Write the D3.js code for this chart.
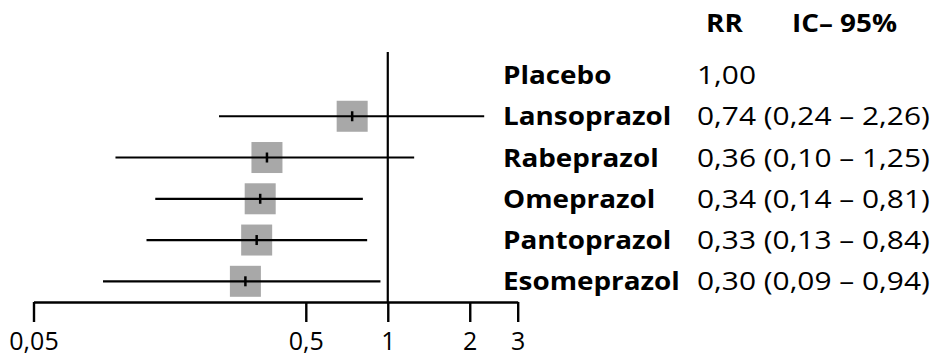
<!DOCTYPE html>
<html><head><meta charset="utf-8">
<script src="https://cdn.jsdelivr.net/npm/d3@7"></script>
<style>html,body{margin:0;padding:0;background:#fff;} svg{display:block}</style>
</head><body><svg id="c" width="936" height="356"></svg>
<script>
// ---- data ----
const drugs = ["Placebo","Lansoprazol","Rabeprazol","Omeprazol","Pantoprazol","Esomeprazol"];
const rr    = [1.00, 0.74, 0.36, 0.34, 0.33, 0.30];
const lower = [null, 0.24, 0.10, 0.14, 0.13, 0.09];
const upper = [null, 2.26, 1.25, 0.81, 0.84, 0.94];
const tickValues = [0.05, 0.5, 1, 2, 3];
const tickLabels = ["0,05", "0,5", "1", "2", "3"];
const headers = ["RR", "IC– 95%"];

// ---- layout ----
const FONT = "'Open Sans', sans-serif";
const svg = d3.select("#c");
const x = d3.scaleLog().domain([0.05, 3]).range([33.5, 517.7]);
const y = d3.scalePoint().domain(drugs).range([75, 281.3]);
const axisY = 302;
const fmt = v => v.toFixed(2).replace(".", ",");
const rows = drugs.map((d, i) => ({name: d, rr: rr[i], lo: lower[i], hi: upper[i]}));

// reference line at 1
svg.append("line")
  .attr("x1", x(1)).attr("x2", x(1)).attr("y1", 52).attr("y2", axisY)
  .attr("stroke", "#000").attr("stroke-width", 2.2);

// axis
const axis = d3.axisBottom(x).tickValues(tickValues)
  .tickFormat((d, i) => tickLabels[i]).tickSize(20).tickSizeOuter(0).tickPadding(10.5);
const gA = svg.append("g").attr("transform", `translate(0,${axisY})`).call(axis);
gA.attr("font-family", FONT).attr("font-size", 25);
gA.select(".domain").attr("stroke", "#000").attr("stroke-width", 2.4);
gA.selectAll(".tick line").attr("stroke", "#000").attr("stroke-width", 2.4);
gA.selectAll(".tick text").attr("fill", "#000");

// markers
const ci = rows.filter(r => r.lo !== null);
const S = 31;
svg.selectAll("rect.box").data(ci).join("rect").attr("class", "box")
  .attr("x", r => x(r.rr) - S / 2).attr("y", r => y(r.name) - S / 2)
  .attr("width", S).attr("height", S).attr("fill", "#a8a8a8");
svg.selectAll("line.ci").data(ci).join("line").attr("class", "ci")
  .attr("x1", r => x(r.lo)).attr("x2", r => x(r.hi))
  .attr("y1", r => y(r.name)).attr("y2", r => y(r.name))
  .attr("stroke", "#000").attr("stroke-width", 2.2);
svg.selectAll("line.pt").data(ci).join("line").attr("class", "pt")
  .attr("x1", r => x(r.rr)).attr("x2", r => x(r.rr))
  .attr("y1", r => y(r.name) - 5).attr("y2", r => y(r.name) + 5)
  .attr("stroke", "#000").attr("stroke-width", 2.5);

// right-hand text
function stretchText(sel, x0, targetWidthOfWidest) {
  let maxW = 0;
  sel.each(function () { maxW = Math.max(maxW, this.getComputedTextLength()); });
  const k = targetWidthOfWidest / maxW;
  sel.attr("transform", function () {
    const yy = +this.getAttribute("data-y");
    return `translate(${x0},${yy}) scale(${k},1)`;
  });
  return k;
}
const labels = svg.selectAll("text.lab").data(rows).join("text").attr("class", "lab")
  .attr("font-family", FONT).attr("font-weight", "bold").attr("font-size", 25.5)
  .attr("fill", "#000").attr("data-y", r => y(r.name) + 9).text(r => r.name);
const kL = stretchText(labels, 503, 177);

const vals = svg.selectAll("text.val").data(rows).join("text").attr("class", "val")
  .attr("font-family", FONT).attr("font-size", 25.5).attr("fill", "#000")
  .attr("data-y", r => y(r.name) + 9)
  .text(r => r.lo === null ? fmt(r.rr) : `${fmt(r.rr)} (${fmt(r.lo)} – ${fmt(r.hi)})`);
stretchText(vals, 697, 233);

const hx = [706, 792];
svg.selectAll("text.hdr").data(headers).join("text").attr("class", "hdr")
  .attr("font-family", FONT).attr("font-weight", "bold").attr("font-size", 25.5)
  .attr("fill", "#000").text(d => d)
  .attr("transform", (d, i) => `translate(${hx[i]},32) scale(${kL},1)`);
</script></body></html>
